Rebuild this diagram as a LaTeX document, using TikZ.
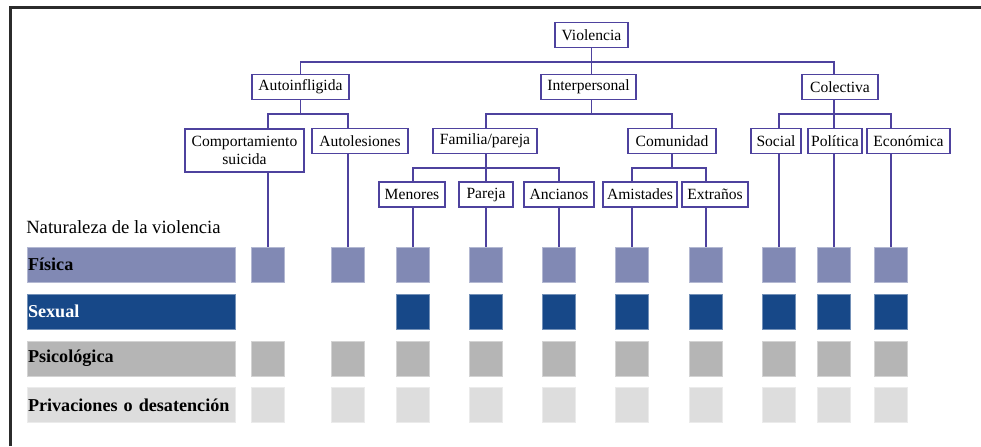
\documentclass[tikz,border=0pt]{standalone}
\usepackage{fontspec}
\setmainfont{Liberation Serif}
\usetikzlibrary{positioning,calc}
\definecolor{arbol}{HTML}{4E429E}
\definecolor{fisica}{HTML}{8189B4}
\definecolor{sexual}{HTML}{174888}
\definecolor{psico}{HTML}{B5B5B5}
\definecolor{privac}{HTML}{DDDDDD}
\definecolor{marco}{HTML}{2B2B2B}

\begin{document}
\begin{tikzpicture}[x=0.75pt, y=-0.75pt,
  caja/.style={draw=arbol, line width=1.1pt, fill=white, inner xsep=1pt, inner ysep=1pt,
    minimum height=19pt, align=center, font=\fontsize{11.7}{13}\selectfont},
  linea/.style={draw=arbol, line width=1.1pt},
  barra/.style={fill=#1, draw=#1!60!white, line width=0.5pt, anchor=west, text width=155pt,
    inner xsep=0.5pt, minimum height=26.25pt, align=left, font=\fontsize{13.6}{15}\selectfont\bfseries},
  cuadro/.style={fill=#1, draw=#1!60!white, line width=0.5pt, inner sep=0pt,
    minimum width=24.75pt, minimum height=26.25pt}
]
  \useasboundingbox (0,0) rectangle (981,446);
  \draw[marco, line width=2.25pt] (10.5,446) -- (10.5,7) -- (981,7);

  % niveles de los tramos horizontales
  \coordinate (bus1) at (0,62);
  \coordinate (bus2) at (0,114);
  \coordinate (bus3) at (0,168);

  % naturaleza de la violencia
  \node[anchor=west, inner sep=0pt, font=\fontsize{14}{16}\selectfont] (naturaleza) at (26,227) {Naturaleza de la violencia};
  \node[barra=fisica] (tfisica) at (27,264.5) {Física};
  \node[barra=sexual, text=white] (tsexual) at (27,311.5) {Sexual};
  \node[barra=psico] (tpsico) at (27,358.5) {Psicológica};
  \node[barra=privac] (tprivac) at (27,405) {Privaciones o desatención};

  \foreach \x [count=\c] in {268,348,413,486,559,632,706,779,834,891} {
    \node[cuadro=fisica] (fis\c) at (\x,264.5) {};
    \ifnum\c>2 \node[cuadro=sexual] (sex\c) at (\x,311.5) {}; \fi
    \node[cuadro=psico] (psi\c) at (\x,358.5) {};
    \node[cuadro=privac] (pri\c) at (\x,405) {};
  }

  % arbol de tipos
  \node[caja, minimum width=54.75pt] (violencia) at (591.5,35) {Violencia};
  \node[caja, minimum width=72.75pt] (autoinf) at (300.5,87) {Autoinfligida};
  \node[caja, minimum width=71.25pt] (interp) at (588.5,87) {Interpersonal};
  \node[caja, minimum width=57pt] (colectiva) at (840,87) {Colectiva};

  \node[caja, minimum width=89.25pt, minimum height=32.25pt] (comport) at (244.5,150.5) {Comportamiento\\suicida};
  \node[caja, minimum width=72pt] (autoles) at (360,141) {Autolesiones};
  \node[caja, minimum width=78pt] (familia) at (485,141) {Familia/pareja};
  \node[caja, minimum width=66pt] (comunidad) at (672,141) {Comunidad};
  \node[caja, minimum width=37.5pt] (social) at (776,141) {Social};
  \node[caja, minimum width=40.5pt] (politica) at (835,141) {Política};
  \node[caja, minimum width=62.25pt] (economica) at (908.5,141) {Económica};

  \node[caja, minimum width=49.5pt] (menores) at (412,194.5) {Menores};
  \node[caja, minimum width=40.5pt] (pareja) at (486,194.5) {Pareja};
  \node[caja, minimum width=52.5pt] (ancianos) at (559,194.5) {Ancianos};
  \node[caja, minimum width=55.5pt] (amistades) at (640,194.5) {Amistades};
  \node[caja, minimum width=49.5pt] (extranos) at (715,194.5) {Extraños};

  % conectores
  \draw[linea] (violencia.south) -- (violencia.south |- bus1);
  \draw[linea] (autoinf.north) -- (autoinf.north |- bus1) -- (fis9 |- bus1) -- (fis9 |- colectiva.north);
  \draw[linea] (violencia.south |- bus1) -- (violencia.south |- interp.north);

  \draw[linea] (autoinf.south) -- (autoinf.south |- bus2);
  \draw[linea] (fis1 |- comport.north) -- (fis1 |- bus2) -- (fis2 |- bus2) -- (fis2 |- autoles.north);
  \draw[linea] (violencia.south |- interp.south) -- (violencia.south |- bus2);
  \draw[linea] (fis4 |- familia.north) -- (fis4 |- bus2) -- (comunidad.north |- bus2) -- (comunidad.north);
  \draw[linea] (fis9 |- colectiva.south) -- (fis9 |- politica.north);
  \draw[linea] (fis8 |- social.north) -- (fis8 |- bus2) -- (fis10 |- bus2) -- (fis10 |- economica.north);

  \draw[linea] (fis4 |- familia.south) -- (fis4 |- bus3);
  \draw[linea] (fis3 |- menores.north) -- (fis3 |- bus3) -- (fis5 |- bus3) -- (fis5 |- ancianos.north);
  \draw[linea] (fis4 |- bus3) -- (fis4 |- pareja.north);
  \draw[linea] (comunidad.south) -- (comunidad.south |- bus3);
  \draw[linea] (fis6 |- amistades.north) -- (fis6 |- bus3) -- (fis7 |- bus3) -- (fis7 |- extranos.north);

  \draw[linea] (fis1 |- comport.south) -- (fis1.north);
  \draw[linea] (fis2 |- autoles.south) -- (fis2.north);
  \draw[linea] (fis3 |- menores.south) -- (fis3.north);
  \draw[linea] (fis4 |- pareja.south) -- (fis4.north);
  \draw[linea] (fis5 |- ancianos.south) -- (fis5.north);
  \draw[linea] (fis6 |- amistades.south) -- (fis6.north);
  \draw[linea] (fis7 |- extranos.south) -- (fis7.north);
  \draw[linea] (fis8 |- social.south) -- (fis8.north);
  \draw[linea] (fis9 |- politica.south) -- (fis9.north);
  \draw[linea] (fis10 |- economica.south) -- (fis10.north);
\end{tikzpicture}
\end{document}
